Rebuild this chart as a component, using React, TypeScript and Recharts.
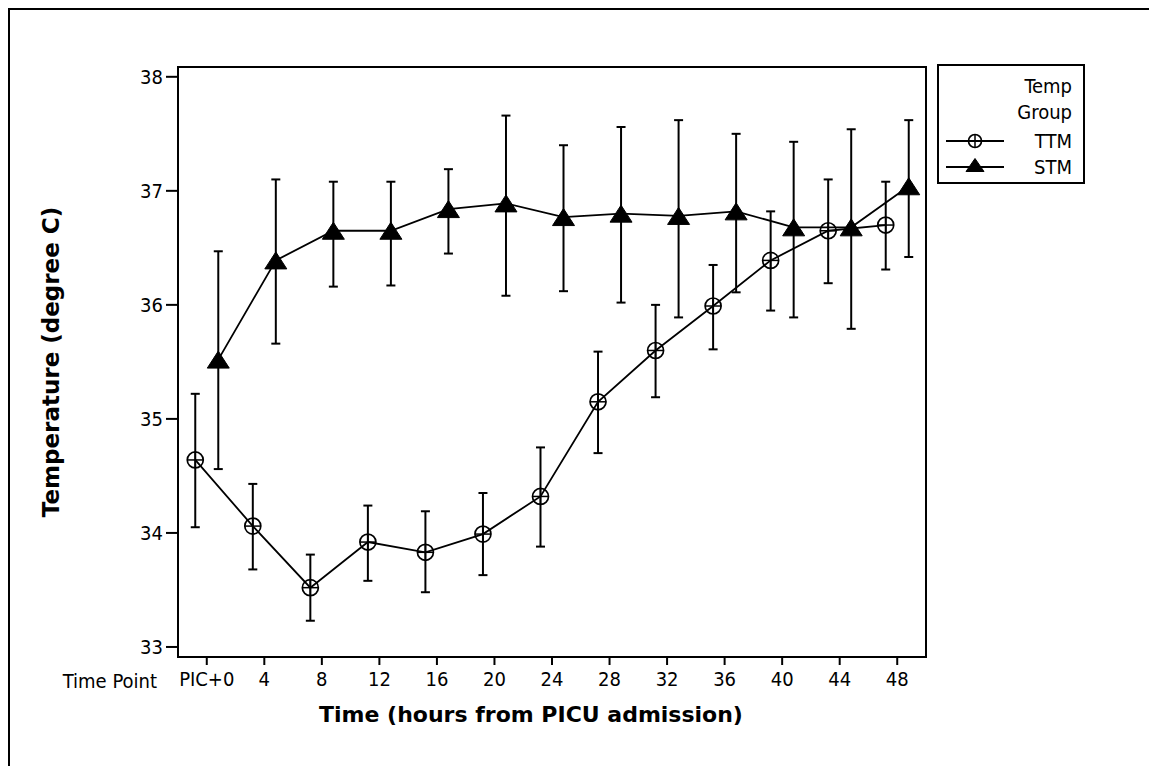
import React from "react";
import { ComposedChart, Scatter, ErrorBar, XAxis, YAxis, ReferenceArea } from "recharts";

// time points on the x axis
const timeLabels = ["PIC+0", "4", "8", "12", "16", "20", "24", "28", "32", "36", "40", "44", "48"];

// TTM group: mean temperature and interval ends
const ttmMean = [34.64, 34.06, 33.52, 33.92, 33.83, 33.99, 34.32, 35.15, 35.6, 35.99, 36.39, 36.65, 36.7];
const ttmLower = [34.05, 33.68, 33.23, 33.58, 33.48, 33.63, 33.88, 34.7, 35.19, 35.61, 35.95, 36.19, 36.31];
const ttmUpper = [35.22, 34.43, 33.81, 34.24, 34.19, 34.35, 34.75, 35.59, 36.0, 36.35, 36.82, 37.1, 37.08];

// STM group
const stmMean = [35.52, 36.39, 36.65, 36.65, 36.84, 36.89, 36.77, 36.8, 36.78, 36.82, 36.68, 36.68, 37.04];
const stmLower = [34.56, 35.66, 36.16, 36.17, 36.45, 36.08, 36.12, 36.02, 35.89, 36.11, 35.89, 35.79, 36.42];
const stmUpper = [36.47, 37.1, 37.08, 37.08, 37.19, 37.66, 37.4, 37.56, 37.62, 37.5, 37.43, 37.54, 37.62];

const yTicks = [33, 34, 35, 36, 37, 38];
const groupTitle = ["Temp", "Group"];
const groupNames = ["TTM", "STM"];

const FONT = "'DejaVu Sans Condensed', 'DejaVu Sans', sans-serif";
const BOLD_FONT = "'DejaVu Sans', sans-serif";
const DODGE = 0.2; // side-by-side offset of the two groups inside a time point
const Y_MIN = 32.912;
const Y_MAX = 38.086;

const buildSeries = (mean: number[], lower: number[], upper: number[], shift: number) =>
  mean.map((m, i) => ({ x: i + shift, y: m, err: [m - lower[i], upper[i] - m] }));

const ttmData = buildSeries(ttmMean, ttmLower, ttmUpper, -DODGE);
const stmData = buildSeries(stmMean, stmLower, stmUpper, DODGE);
const xTicks = timeLabels.map((_, i) => i);

const CircleMark = ({ cx, cy, r = 8 }: any) => (
  <g>
    <circle cx={cx} cy={cy} r={r} fill="none" stroke="#000" strokeWidth={1.7} />
    <line x1={cx - r} y1={cy} x2={cx + r} y2={cy} stroke="#000" strokeWidth={1.5} />
    <line x1={cx} y1={cy - r} x2={cx} y2={cy + r} stroke="#000" strokeWidth={1.5} />
  </g>
);

const TriangleMark = ({ cx, cy, w = 22, h = 17 }: any) => (
  <polygon
    points={`${cx},${cy - h / 2} ${cx - w / 2},${cy + h / 2} ${cx + w / 2},${cy + h / 2}`}
    fill="#000"
    stroke="#000"
    strokeWidth={1}
  />
);

const XTitles = () => (
  <g>
    <text x={157} y={688} textAnchor="end" fontSize={20} fontFamily={FONT} fill="#000">
      Time Point
    </text>
    <text x={531} y={722} textAnchor="middle" fontSize={22} fontWeight="bold" fontFamily={BOLD_FONT} fill="#000">
      Time (hours from PICU admission)
    </text>
  </g>
);

const YTitle = () => (
  <text
    x={59}
    y={362}
    textAnchor="middle"
    transform="rotate(-90 59 362)"
    fontSize={23}
    fontWeight="bold"
    fontFamily={BOLD_FONT}
    fill="#000"
  >
    Temperature (degree C)
  </text>
);

const LegendBox = () => (
  <svg width={150} height={122} style={{ display: "block" }}>
    <rect x={1} y={1} width={146} height={118} fill="#fff" stroke="#000" strokeWidth={2} />
    {groupTitle.map((t, i) => (
      <text key={t} x={135} y={29 + i * 26} textAnchor="end" fontSize={20} fontFamily={FONT} fill="#000">
        {t}
      </text>
    ))}
    {groupNames.map((name, i) => {
      const y = 77 + i * 26;
      return (
        <g key={name}>
          <line x1={9} y1={y} x2={67} y2={y} stroke="#000" strokeWidth={2} />
          {i === 0 ? <CircleMark cx={38} cy={y} r={6.5} /> : <TriangleMark cx={38} cy={y - 2} w={18} h={13} />}
          <text x={135} y={y + 7} textAnchor="end" fontSize={20} fontFamily={FONT} fill="#000">
            {name}
          </text>
        </g>
      );
    })}
  </svg>
);

export default function App() {
  return (
    <div
      style={{
        position: "absolute",
        left: 0,
        top: 0,
        width: 1149,
        height: 766,
        overflow: "hidden",
        background: "#fff",
      }}
    >
      <div
        style={{
          position: "absolute",
          left: 8,
          top: 8,
          width: 1400,
          height: 1000,
          borderLeft: "2px solid #000",
          borderTop: "2px solid #000",
        }}
      />
      <div style={{ position: "absolute", left: 0, top: 0 }}>
        <ComposedChart width={1149} height={766} margin={{ top: 67, right: 223, bottom: 0, left: 0 }}>
          <XAxis
            type="number"
            dataKey="x"
            domain={[-0.5, 12.5]}
            allowDataOverflow
            ticks={xTicks}
            interval={0}
            tickFormatter={(v: number) => timeLabels[v] ?? ""}
            height={109}
            axisLine={false}
            tickLine={{ stroke: "#000", strokeWidth: 2 }}
            tickSize={8}
            tickMargin={7}
            tick={{ fill: "#000", fontSize: 20, fontFamily: FONT }}
            label={<XTitles />}
          />
          <YAxis
            type="number"
            dataKey="y"
            domain={[Y_MIN, Y_MAX]}
            allowDataOverflow
            ticks={yTicks}
            interval={0}
            width={178}
            axisLine={false}
            tickLine={{ stroke: "#000", strokeWidth: 2 }}
            tickSize={12}
            tickMargin={3}
            tick={{ fill: "#000", fontSize: 20, fontFamily: FONT }}
            label={<YTitle />}
          />
          <ReferenceArea
            x1={-0.5}
            x2={12.5}
            y1={Y_MIN}
            y2={Y_MAX}
            fill="none"
            stroke="#000"
            strokeWidth={2}
            ifOverflow="visible"
          />
          <Scatter
            name="TTM"
            data={ttmData}
            line={{ stroke: "#000", strokeWidth: 1.8 }}
            lineType="joint"
            shape={(p: any) => <CircleMark cx={p.cx} cy={p.cy} />}
            isAnimationActive={false}
          >
            <ErrorBar dataKey="err" direction="y" width={4.5} stroke="#000" strokeWidth={2} isAnimationActive={false} />
          </Scatter>
          <Scatter
            name="STM"
            data={stmData}
            line={{ stroke: "#000", strokeWidth: 1.8 }}
            lineType="joint"
            shape={(p: any) => <TriangleMark cx={p.cx} cy={p.cy} />}
            isAnimationActive={false}
          >
            <ErrorBar dataKey="err" direction="y" width={4.5} stroke="#000" strokeWidth={2} isAnimationActive={false} />
          </Scatter>
        </ComposedChart>
      </div>
      <div style={{ position: "absolute", left: 937, top: 64 }}>
        <LegendBox />
      </div>
    </div>
  );
}
